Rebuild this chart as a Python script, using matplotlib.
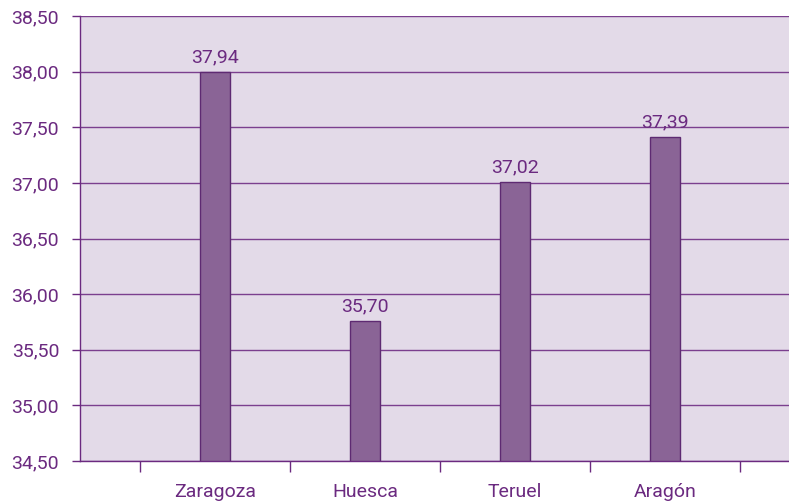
import matplotlib.pyplot as plt
from matplotlib.ticker import FixedLocator

regions = ["Zaragoza", "Huesca", "Teruel", "Aragón"]
bar_heights = [38.00, 35.76, 37.01, 37.41]
bar_labels = ["37,94", "35,70", "37,02", "37,39"]
y_ticks = [34.5, 35.0, 35.5, 36.0, 36.5, 37.0, 37.5, 38.0, 38.5]

purple = "#6B2A80"
plt.rcParams['font.family'] = ['Roboto', 'DejaVu Sans']

fig = plt.figure(figsize=(7.89, 5.03), dpi=100)
ax = fig.add_axes([80 / 789, 42 / 503, 1 - 80 / 789, 445 / 503])
ax.set_facecolor("#E3DAE8")

x = list(range(len(regions)))
ax.bar(x, [h - 34.5 for h in bar_heights], bottom=34.5, width=0.2,
       color="#8A6496", edgecolor="#5E2A72", linewidth=1, zorder=3)

for xi, h, lab in zip(x, bar_heights, bar_labels):
    ax.annotate(lab, (xi, h), xytext=(0, 4), textcoords="offset points",
                ha="center", va="bottom", fontsize=14, color=purple)

ax.set_ylim(34.5, 38.5)
ax.set_xlim(-0.9, 3.827)
ax.set_yticks(y_ticks)
ax.set_yticklabels([f"{v:.2f}".replace(".", ",") for v in y_ticks])
ax.yaxis.grid(True, color="#7B3F8E", linewidth=1)
ax.set_axisbelow(True)

ax.set_xticks(x)
ax.set_xticklabels(regions)
ax.xaxis.set_minor_locator(FixedLocator([-0.5, 0.5, 1.5, 2.5, 3.5]))
ax.tick_params(axis="x", which="major", length=0, pad=16, labelsize=14, labelcolor=purple)
ax.tick_params(axis="x", which="minor", length=8, width=1, color=purple)
ax.tick_params(axis="y", length=6, width=1, color=purple, labelsize=14, labelcolor=purple, pad=9)

for side in ["top", "right"]:
    ax.spines[side].set_visible(False)
for side in ["left", "bottom"]:
    ax.spines[side].set_color(purple)
    ax.spines[side].set_linewidth(1)

plt.savefig("out.png", dpi=100)
plt.close()
